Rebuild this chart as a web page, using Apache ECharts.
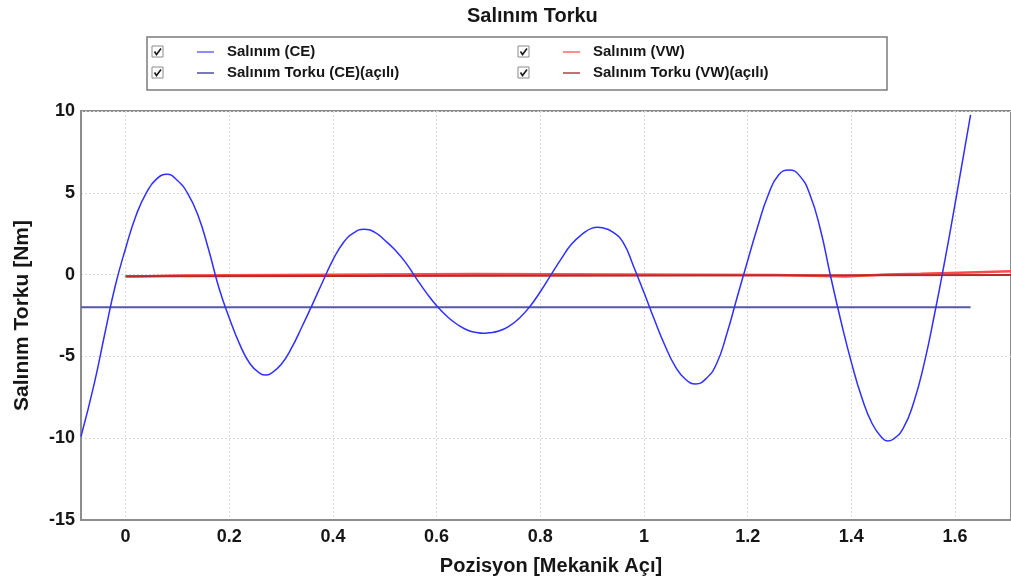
<!DOCTYPE html>
<html>
<head>
<meta charset="utf-8">
<title>Salınım Torku</title>
<script src="https://cdn.jsdelivr.net/npm/echarts@6/dist/echarts.min.js"></script>
<style>
  html, body { margin: 0; padding: 0; background: #ffffff; }
  #chart { width: 1011px; height: 585px; }
</style>
</head>
<body>
<div id="chart"></div>
<script>
// Salınım (CE): position [mechanical angle] and torque [Nm]
const pozisyonCE = [
  -0.086, -0.06, -0.04, -0.02, 0.00, 0.02, 0.04, 0.06, 0.08, 0.10,
  0.12, 0.14, 0.16, 0.18, 0.20, 0.22, 0.24, 0.26, 0.27, 0.28,
  0.30, 0.32, 0.34, 0.36, 0.38, 0.40, 0.42, 0.44, 0.46, 0.48,
  0.50, 0.52, 0.54, 0.56, 0.58, 0.60, 0.62, 0.64, 0.66, 0.68,
  0.69, 0.70, 0.72, 0.74, 0.76, 0.78, 0.80, 0.82, 0.84, 0.86,
  0.88, 0.90, 0.91, 0.92, 0.94, 0.96, 0.98, 1.00, 1.02, 1.04,
  1.06, 1.08, 1.10, 1.12, 1.14, 1.16, 1.18, 1.20, 1.22, 1.24,
  1.26, 1.28, 1.30, 1.32, 1.34, 1.36, 1.38, 1.40, 1.42, 1.44,
  1.46, 1.47, 1.48, 1.50, 1.52, 1.54, 1.56, 1.58, 1.60, 1.63
];
const salinimCE = [
  -9.9, -6.6, -3.6, -0.7, 1.6, 3.6, 5.0, 5.85, 6.13, 5.75,
  4.95, 3.6, 1.55, -0.8, -2.65, -4.25, -5.45, -6.05, -6.14, -6.05,
  -5.5, -4.5, -3.2, -1.85, -0.45, 0.9, 1.95, 2.55, 2.77, 2.6,
  2.1, 1.5, 0.75, -0.2, -1.1, -1.9, -2.55, -3.05, -3.4, -3.56,
  -3.59, -3.56, -3.45, -3.15, -2.65, -1.95, -1.05, -0.05, 0.95, 1.85,
  2.45, 2.84, 2.89, 2.86, 2.6, 1.95, 0.5, -1.1, -2.75, -4.3,
  -5.6, -6.4, -6.68, -6.35, -5.45, -3.6, -1.35, 0.85, 3.0, 4.9,
  6.1, 6.39, 6.05, 4.9, 2.8, -0.1, -2.85, -5.35, -7.5, -9.1,
  -10.0, -10.17, -10.08, -9.4, -7.85, -5.5, -2.5, 0.8, 4.3, 9.76
];

// Salınım Torku (CE)(açılı)
const pozisyonTorkuCE = [-0.086, 1.630];
const torkuCE = [-2.0, -2.0];

// Salınım (VW): stepwise values
const pozisyonVW = [0.000, 0.020, 0.100, 0.674, 1.257, 1.388, 1.469, 1.534, 1.608, 1.708];
const salinimVW = [-0.12, -0.05, 0.03, -0.02, -0.12, 0.00, 0.05, 0.12, 0.20, 0.20];

// Salınım Torku (VW)(açılı)
const pozisyonTorkuVW = [0.000, 0.100, 1.708];
const torkuVW = [-0.10, -0.02, -0.02];

// Axis ticks
const xTicks = [0, 0.2, 0.4, 0.6, 0.8, 1, 1.2, 1.4, 1.6];
const yTicks = [-15, -10, -5, 0, 5, 10];

const seriesNames = ['Salınım (CE)', 'Salınım Torku (CE)(açılı)', 'Salınım (VW)', 'Salınım Torku (VW)(açılı)'];

const pairs = (xs, ys) => xs.map((x, i) => [x, ys[i]]);

const FONT = '"Liberation Sans", Arial, sans-serif';
const TEXT = '#161616';

const chart = echarts.init(document.getElementById('chart'), null, { renderer: 'canvas' });

// check boxes beside the legend entries
function checkBox(x, y) {
  return {
    type: 'group',
    x: x, y: y,
    silent: true,
    children: [
      { type: 'rect', shape: { x: 0, y: 0, width: 11, height: 11 },
        style: { fill: '#ffffff', stroke: '#8a8a8a', lineWidth: 1 } },
      { type: 'polyline', shape: { points: [[2.5, 5.5], [4.5, 8.5], [9, 2.5]] },
        style: { fill: null, stroke: '#1a1a1a', lineWidth: 1.6 } }
    ]
  };
}

const legendText = {
  fontFamily: FONT, fontSize: 15, fontWeight: 'bold', color: TEXT,
  lineHeight: 16, padding: [0, 0, 0, 8]
};

const option = {
  animation: false,
  backgroundColor: '#ffffff',
  title: {
    text: 'Salınım Torku',
    left: 462, top: 1,
    textStyle: { fontFamily: FONT, fontSize: 20, fontWeight: 'bold', color: TEXT }
  },
  legend: [
    {
      data: [
        { name: seriesNames[0], itemStyle: { color: '#8c8cff' } },
        { name: seriesNames[1], itemStyle: { color: '#7878c4' } }
      ],
      orient: 'vertical', left: 197, top: 44,
      icon: 'rect', itemWidth: 17, itemHeight: 2, itemGap: 5,
      selectedMode: false, padding: 0,
      textStyle: legendText
    },
    {
      data: [
        { name: seriesNames[2], itemStyle: { color: '#ff8e8e' } },
        { name: seriesNames[3], itemStyle: { color: '#c27272' } }
      ],
      orient: 'vertical', left: 563, top: 44,
      icon: 'rect', itemWidth: 17, itemHeight: 2, itemGap: 5,
      selectedMode: false, padding: 0,
      textStyle: legendText
    }
  ],
  graphic: [
    { type: 'rect', silent: true, z: -1,
      shape: { x: 147, y: 37, width: 740, height: 53 },
      style: { fill: '#ffffff', stroke: '#7c7c7c', lineWidth: 1.5 } },
    checkBox(152, 46), checkBox(152, 67),
    checkBox(518, 46), checkBox(518, 67)
  ],
  grid: {
    left: 81, right: -2, top: 111, bottom: 65,
    show: true, borderColor: '#8c8c8c', borderWidth: 2, backgroundColor: 'transparent'
  },
  xAxis: {
    type: 'value',
    min: -0.086, max: 1.708,
    splitNumber: 9,
    name: 'Pozisyon [Mekanik Açı]',
    nameLocation: 'middle', nameGap: 36,
    nameTextStyle: { fontFamily: FONT, fontSize: 20, fontWeight: 'bold', color: TEXT, padding: [0, 0, 0, 10] },
    axisLine: { show: true, onZero: false, lineStyle: { color: '#8c8c8c', width: 2 } },
    axisTick: { show: false, customValues: xTicks },
    axisLabel: {
      customValues: xTicks,
      margin: 8,
      fontFamily: FONT, fontSize: 18, fontWeight: 'bold', color: TEXT
    },
    splitLine: { show: true, lineStyle: { color: '#dadada', width: 1, type: [2, 2] } }
  },
  yAxis: {
    type: 'value',
    min: yTicks[0], max: yTicks[yTicks.length - 1], interval: 5,
    name: 'Salınım Torku [Nm]',
    nameLocation: 'middle', nameGap: 48,
    nameTextStyle: { fontFamily: FONT, fontSize: 21, fontWeight: 'bold', color: TEXT, padding: [0, 0, 0, 0] },
    axisLine: { show: true, onZero: false, lineStyle: { color: '#8c8c8c', width: 2 } },
    axisTick: { show: false },
    axisLabel: {
      margin: 6,
      fontFamily: FONT, fontSize: 18, fontWeight: 'bold', color: TEXT
    },
    splitLine: { show: true, lineStyle: { color: '#dadada', width: 1, type: [2, 2] } }
  },
  series: [
    {
      name: seriesNames[1], type: 'line',
      data: pairs(pozisyonTorkuCE, torkuCE),
      showSymbol: false, symbol: 'none',
      lineStyle: { color: '#5656aa', width: 2 },
      itemStyle: { color: '#5656aa' }, z: 2
    },
    {
      name: seriesNames[2], type: 'line', step: 'end',
      data: pairs(pozisyonVW, salinimVW),
      showSymbol: false, symbol: 'none',
      lineStyle: { color: '#ff4a4a', width: 2.5 },
      itemStyle: { color: '#ff4a4a' }, z: 3
    },
    {
      name: seriesNames[3], type: 'line', step: 'end',
      data: pairs(pozisyonTorkuVW, torkuVW),
      showSymbol: false, symbol: 'none',
      lineStyle: { color: '#b82a2a', width: 2 },
      itemStyle: { color: '#b82a2a' }, z: 4
    },
    {
      name: seriesNames[0], type: 'line', smooth: 0.5,
      data: pairs(pozisyonCE, salinimCE),
      showSymbol: false, symbol: 'none',
      lineStyle: { color: '#2f2fff', width: 1.5 },
      itemStyle: { color: '#2f2fff' }, z: 5
    }
  ]
};

chart.setOption(option);
</script>
</body>
</html>
